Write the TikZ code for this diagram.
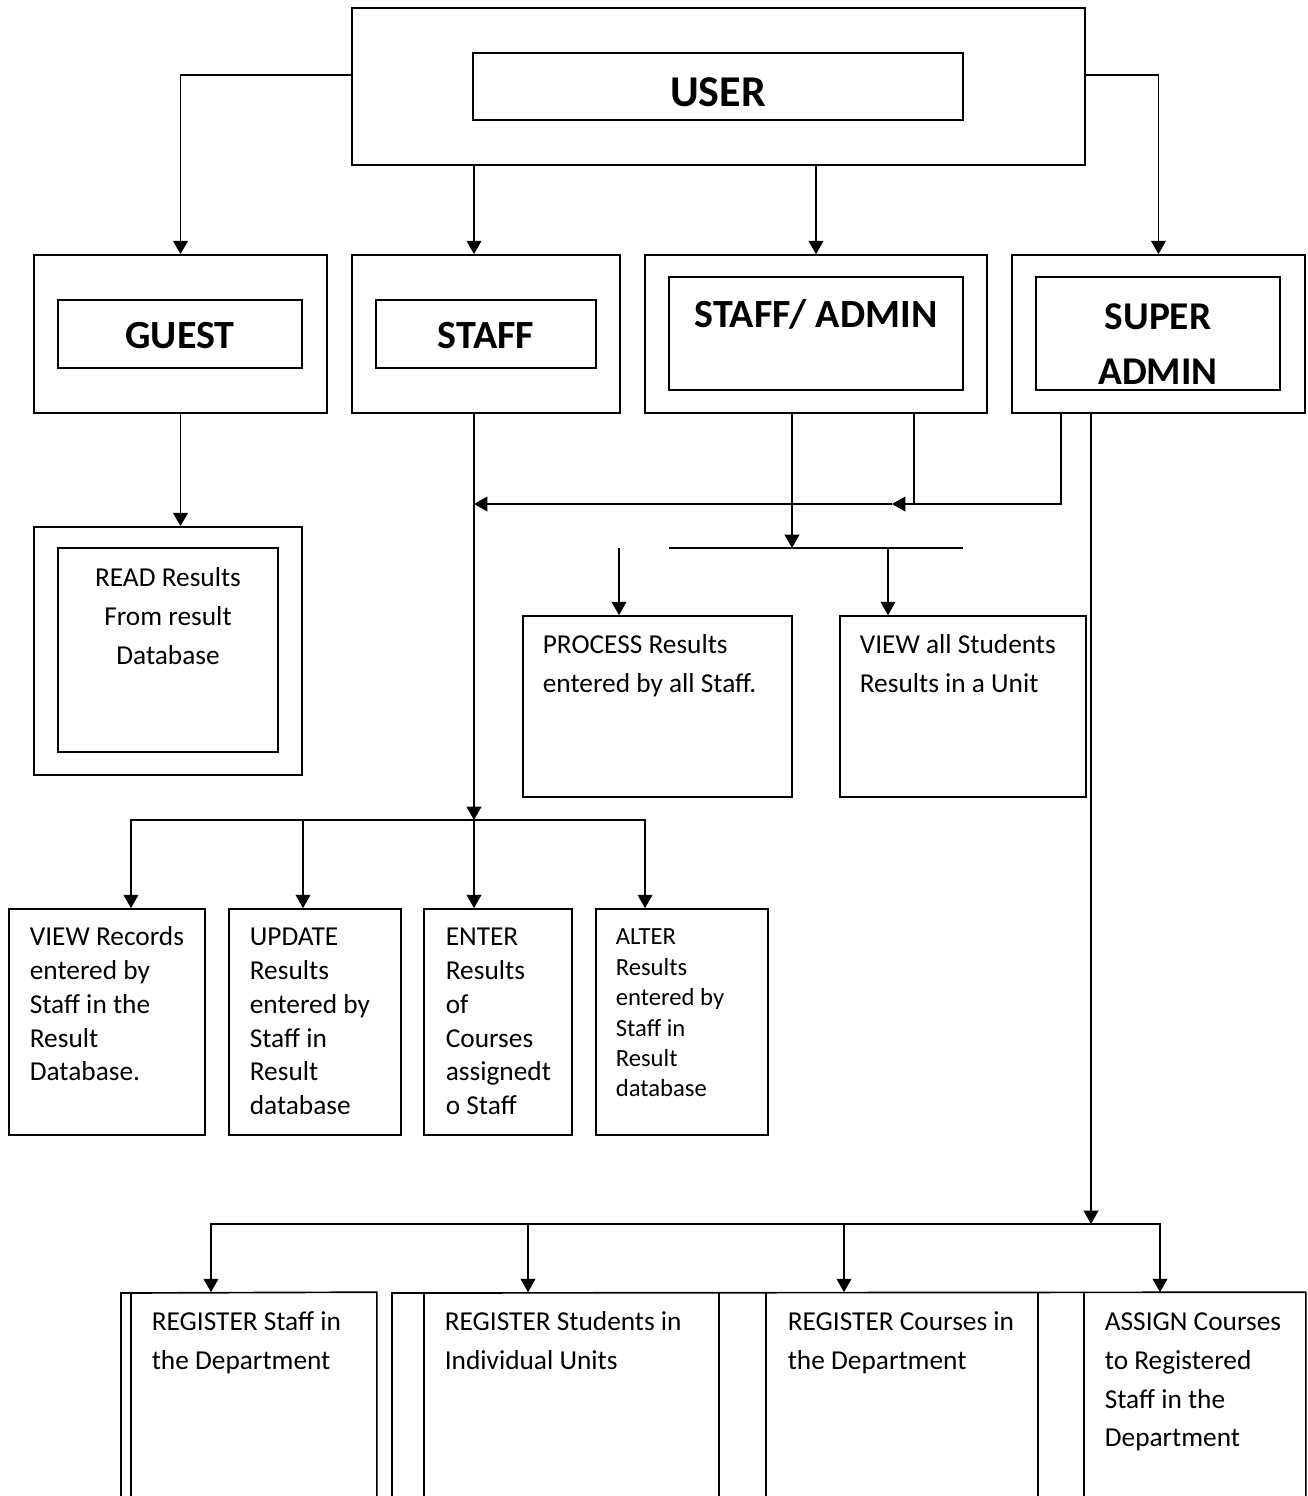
\documentclass[tikz,border=0pt]{standalone}
\usepackage{fontspec}
\setmainfont{Carlito}
\usetikzlibrary{arrows.meta,fit}
\newcommand\tst{\rule{0pt}{18pt}}
\begin{document}
\begin{tikzpicture}[x=0.75pt,y=-0.75pt,
  line width=1.25pt,
  box/.style={draw,inner sep=0pt,line width=1.25pt},
  slot/.style={inner sep=0pt,draw=none},
  arr/.style={-{Triangle[length=10pt,width=11pt]}},
  ttl/.style={inner sep=0pt,font=\bfseries\fontsize{30}{41}\selectfont,align=center},
  body/.style={inner sep=0pt,anchor=north west,align=left,font=\fontsize{20.5}{25.3}\selectfont},
  bodyw/.style={inner sep=0pt,anchor=north west,align=left,font=\fontsize{20.5}{29}\selectfont},
  bodys/.style={inner sep=0pt,anchor=north west,align=left,font=\fontsize{18.5}{22.8}\selectfont}
]
\useasboundingbox (0,0) rectangle (1307,1496);

% --- USER
\node[box,fit={(352,8) (1085,165)}] (user) {};
\node[box,fit={(473,53) (963,120)}] (userin) {};
\node[inner sep=0pt,anchor=base,font=\bfseries\fontsize{33}{40}\selectfont] (usert) at (718,106) {USER};

% --- roles
\node[box,fit={(34,255) (327,413)}] (guest) {};
\node[box,fit={(58,300) (302,368)}] (guestin) {};
\node[ttl,anchor=base] (guestt) at (180,348) {GUEST};

\node[box,fit={(352,255) (620,413)}] (staff) {};
\node[box,fit={(376,300) (596,368)}] (staffin) {};
\node[ttl,anchor=base] (stafft) at (486,348) {STAFF};

\node[box,fit={(645,255) (987,413)}] (sadm) {};
\node[box,fit={(669,277) (963,390)}] (sadmin) {};
\node[ttl,anchor=base] (sadmt) at (816,327) {STAFF/ ADMIN};

\node[box,fit={(1012,255) (1305,413)}] (super) {};
\node[box,fit={(1036,277) (1280,390)}] (superin) {};
\node[ttl,anchor=north,font=\bfseries\fontsize{29.5}{41}\selectfont] (supert) at (1158,303) {\tst SUPER\\ADMIN};

% --- guest result
\node[box,fit={(34,527) (302,775)}] (read) {};
\node[box,fit={(58,548) (278,752)}] (readin) {};
\node[inner sep=0pt,anchor=north,align=center,font=\fontsize{20.5}{29}\selectfont] (readt) at (168,562) {\tst READ Results\\From result\\Database};

% --- staff/admin results
\node[box,fit={(523,616) (792,797)}] (proc) {};
\node[bodyw] (proct) at (542,629) {\tst PROCESS Results\\entered by all Staff.};
\node[box,fit={(840,616) (1086,797)}] (viewall) {};
\node[bodyw] (viewallt) at (859,629) {\tst VIEW all Students\\Results in a Unit};

% --- staff results
\node[box,fit={(9,909) (205,1135)}] (viewrec) {};
\node[body] (viewrect) at (29,921) {\tst VIEW Records\\entered by\\Staff in the\\Result\\Database.};
\node[box,fit={(229,909) (401,1135)}] (update) {};
\node[body] (updatet) at (249,921) {\tst UPDATE\\Results\\entered by\\Staff in\\Result\\database};
\node[box,fit={(424,909) (572,1135)}] (enter) {};
\node[body] (entert) at (445,921) {\tst ENTER\\Results\\of\\Courses\\assignedt\\o Staff};
\node[box,fit={(596,909) (768,1135)}] (alter) {};
\node[bodys] (altert) at (615,920) {\tst ALTER\\Results\\entered by\\Staff in\\Result\\database};

% --- super admin results (open at the bottom)
\node[slot,fit={(132,1293) (376,1496)}] (reg1) {};
\node[slot,fit={(425,1293) (718,1496)}] (reg2) {};
\node[slot,fit={(767,1293) (1037,1496)}] (reg3) {};
\node[slot,fit={(1085,1293) (1305,1496)}] (reg4) {};
\coordinate (e1) at (121,1293);
\coordinate (e2) at (392,1293);
\draw (e1 |- reg1.south) -- (e1) -- (reg1.north east) -- (reg1.south east);
\draw (reg1.south west) -- (reg1.north west);
\draw (e2 |- reg2.south) -- (e2) -- (reg4.north east) -- (reg4.south east);
\draw (reg2.south west) -- (reg2.north west);
\draw (reg2.south east) -- (reg2.north east);
\draw (reg3.south west) -- (reg3.north west);
\draw (reg3.south east) -- (reg3.north east);
\draw (reg4.south west) -- (reg4.north west);
\node[bodyw] (reg1t) at (151,1306) {\tst REGISTER Staff in\\the Department};
\node[bodyw] (reg2t) at (444,1306) {\tst REGISTER Students in\\Individual Units};
\node[bodyw] (reg3t) at (787,1306) {\tst REGISTER Courses in\\the Department};
\node[bodyw] (reg4t) at (1104,1306) {\tst ASSIGN Courses\\to Registered\\Staff in the\\Department};

% --- coordinates for connectors
\coordinate (lvl) at (0,75);
\coordinate (cs) at (474,0);
\coordinate (cA) at (474,504);
\coordinate (cB) at (892,504);
\coordinate (cC) at (914,504);
\coordinate (cD) at (1061,504);
\coordinate (cE) at (792,548);
\coordinate (hl) at (669,548);
\coordinate (hr) at (963,548);
\coordinate (cF) at (888,548);
\coordinate (cG) at (619,548);
\coordinate (cH) at (474,820);
\coordinate (b1) at (131,820);
\coordinate (b2) at (303,820);
\coordinate (b4) at (645,820);
\coordinate (cI) at (1091,1224);
\coordinate (d1) at (211,1224);
\coordinate (d2) at (528,1224);
\coordinate (d3) at (844,1224);
\coordinate (d4) at (1160,1224);

% --- connectors
\draw[arr] (user.west |- lvl) -| (guest.north);
\draw[arr] (user.east |- lvl) -| (super.north);
\draw[arr] (user.south -| cs) -- (staff.north -| cs);
\draw[arr] (user.south -| sadm.north) -- (sadm.north);

\draw[arr] (guest.south) -- (read.north -| guest.south);

\draw[arr] (staff.south -| cs) -- (cH);
\draw[arr] (cH) -| (viewrec.north -| b1);
\draw[arr] (cH) -| (alter.north -| b4);
\draw[arr] (b2) -- (update.north -| b2);
\draw[arr] (cH) -- (enter.north -| cH);

\draw[arr] (super.south -| cD) -- (cD) -- (cB);
\draw (sadm.south -| cC) -- (cC);
\draw[arr] (cB) -- (cA);
\draw[arr] (sadm.south -| cE) -- (cE);
\draw (hl) -- (hr);
\draw[arr] (cF) -- (viewall.north -| cF);
\draw[arr] (cG) -- (proc.north -| cG);

\draw[arr] (super.south -| cI) -- (cI);
\draw[arr] (cI) -| (reg1.north -| d1);
\draw[arr] (cI) -| (reg4.north -| d4);
\draw[arr] (d2) -- (reg2.north -| d2);
\draw[arr] (d3) -- (reg3.north -| d3);
\end{tikzpicture}
\end{document}
